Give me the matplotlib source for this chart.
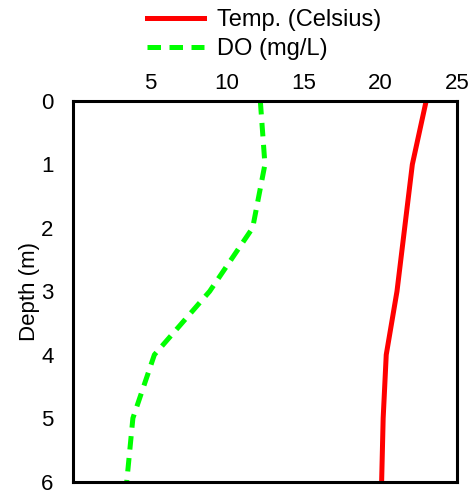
import matplotlib
matplotlib.use("Agg")
import matplotlib.pyplot as plt

depth = [0, 1, 2, 3, 4, 5, 6]
temp = [23.0, 22.1, 21.6, 21.1, 20.4, 20.2, 20.1]
do = [12.2, 12.5, 11.7, 8.9, 5.3, 3.9, 3.5]
x_ticks = [5, 10, 15, 20, 25]
y_ticks = [0, 1, 2, 3, 4, 5, 6]

plt.rcParams['font.family'] = ['Liberation Sans', 'DejaVu Sans']
plt.rcParams['font.size'] = 16

fig = plt.figure(figsize=(4.71, 4.95), dpi=100)
ax = fig.add_axes([0.155, 0.027, 0.815, 0.769])

ax.plot(temp, depth, color='#ff0000', lw=3.6, label='Temp. (Celsius)')
ax.plot(do, depth, color='#00ff00', lw=3.6, ls=(0, (2.7, 1.7)), label='DO (mg/L)')

ax.set_xlim(0, 25)
ax.set_ylim(6, 0)
ax.set_xticks(x_ticks)
ax.set_yticks(y_ticks)
ax.xaxis.tick_top()
ax.tick_params(axis='x', length=0, pad=5)
ax.tick_params(axis='y', length=0, pad=14)
ax.set_ylabel('Depth (m)', labelpad=1)
for s in ax.spines.values():
    s.set_linewidth(2.2)

ax.legend(loc='upper left', bbox_to_anchor=(147 / 471, 1 - 9 / 495),
          bbox_transform=fig.transFigure, frameon=False, borderpad=0,
          borderaxespad=0, handlelength=2.4, handletextpad=0.55,
          labelspacing=0.3, fontsize=17)

fig.savefig('out.png', dpi=100)
